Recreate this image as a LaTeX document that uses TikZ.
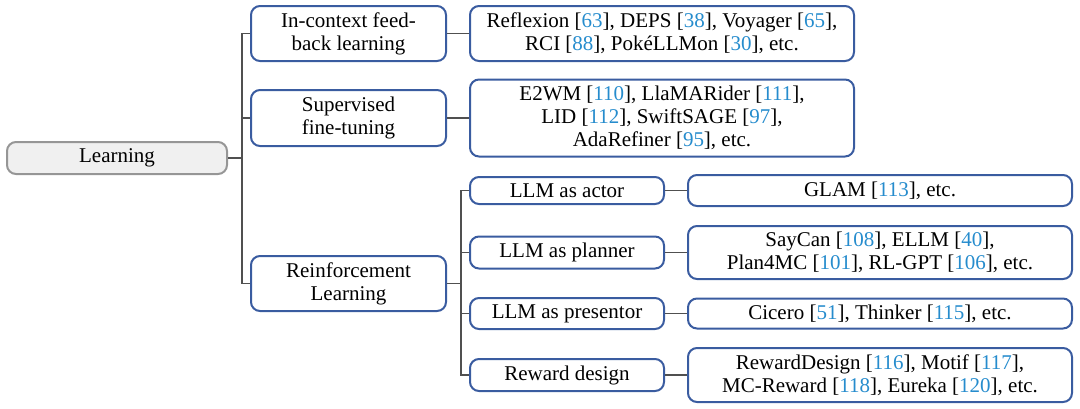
\documentclass[tikz,border=0pt]{standalone}
\usepackage{fontspec}
\setmainfont{Liberation Serif}
\usepackage{tikz}
\usetikzlibrary{positioning}

\definecolor{boxblue}{RGB}{58,92,160}
\definecolor{citeblue}{RGB}{38,140,205}
\definecolor{rootgray}{RGB}{150,150,150}
\definecolor{rootfill}{RGB}{240,240,240}
\definecolor{linegray}{RGB}{80,80,80}

\newcommand{\rf}[1]{[\textcolor{citeblue}{#1}]}

\begin{document}
\begin{tikzpicture}[
    x=0.5pt, y=-0.5pt,
    every node/.style={font=\fontsize{10.5}{11.5}\selectfont, align=center, inner sep=1pt},
    root/.style={draw=rootgray, fill=rootfill, line width=1pt, rounded corners=4.5pt, minimum width=110pt, minimum height=16pt},
    cat/.style={draw=boxblue, line width=1pt, rounded corners=4.5pt, minimum width=97.5pt},
    sub/.style={draw=boxblue, line width=1pt, rounded corners=4.5pt, minimum width=97pt},
    leaf/.style={draw=boxblue, line width=1pt, rounded corners=4.5pt, minimum width=192pt},
    conn/.style={draw=linegray, line width=0.8pt}
]
\useasboundingbox (0,0) rectangle (1080,408);

% Root
\node[root] (learn) at (117,158) {Learning};

% First level
\node[cat, minimum height=27.5pt] (icf) at (348.5,33.5) {In-context feed-\\back learning};
\node[cat, minimum height=28pt] (sft) at (348.5,118) {Supervised\\fine-tuning};
\node[cat, minimum height=27.5pt] (rl) at (348.5,283.5) {Reinforcement\\Learning};

% Leaves of the first two branches
\node[leaf, minimum height=27.5pt] (icfw) at (662,33.5) {Reflexion \rf{63}, DEPS \rf{38}, Voyager \rf{65},\\RCI \rf{88}, PokéLLMon \rf{30}, etc.};
\node[leaf, minimum height=38.5pt] (sftw) at (662,118) {E2WM \rf{110}, LlaMARider \rf{111},\\LID \rf{112}, SwiftSAGE \rf{97},\\AdaRefiner \rf{95}, etc.};

% Reinforcement learning branch
\node[sub, minimum height=13.5pt] (actor) at (567,190.5) {LLM as actor};
\node[sub, minimum height=16pt] (planner) at (567,252.5) {LLM as planner};
\node[sub, minimum height=15.5pt] (present) at (567,313.5) {LLM as presentor};
\node[sub, minimum height=16pt] (reward) at (567,375) {Reward design};

\node[leaf, minimum height=15.5pt] (actorw) at (880,190.5) {GLAM \rf{113}, etc.};
\node[leaf, minimum height=26.5pt] (plannerw) at (880,252.5) {SayCan \rf{108}, ELLM \rf{40},\\Plan4MC \rf{101}, RL-GPT \rf{106}, etc.};
\node[leaf, minimum height=15pt] (presentw) at (880,313.5) {Cicero \rf{51}, Thinker \rf{115}, etc.};
\node[leaf, minimum height=27pt] (rewardw) at (880,375) {RewardDesign \rf{116}, Motif \rf{117},\\MC-Reward \rf{118}, Eureka \rf{120}, etc.};

% Connectors
\coordinate (t1) at (242,158);
\coordinate (t2) at (461,283.5);
\draw[conn] (learn.east) -- (t1);
\foreach \c in {icf,sft,rl} {
    \draw[conn] (t1) |- (\c.west);
}
\draw[conn] (icf.east) -- (icfw.west);
\draw[conn] (sft.east) -- (sftw.west);

\draw[conn] (rl.east) -- (t2);
\foreach \c/\w in {actor/actorw,planner/plannerw,present/presentw,reward/rewardw} {
    \draw[conn] (t2) |- (\c.west);
    \draw[conn] (\c.east) -- (\w.west);
}

\end{tikzpicture}
\end{document}
